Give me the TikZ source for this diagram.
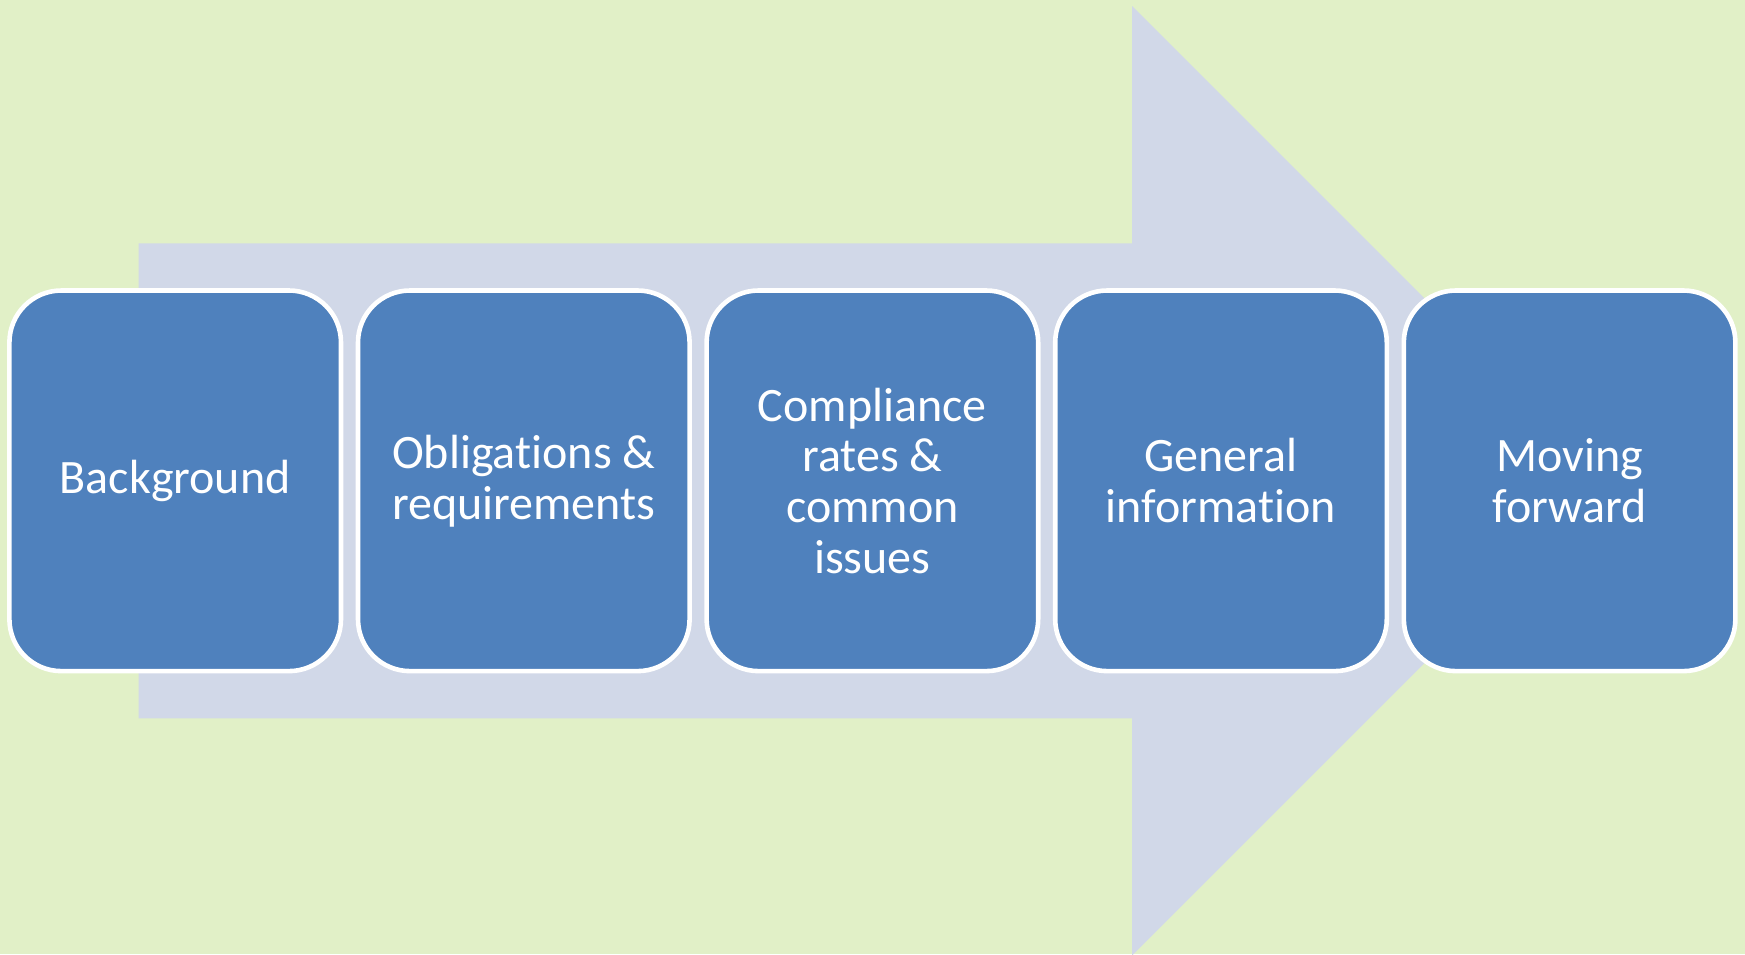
\documentclass[tikz,border=0pt]{standalone}
\usepackage{fontspec}
\setmainfont{Carlito}[Ligatures=NoCommon]
\begin{document}
% one unit = half a point, y grows downward
\begin{tikzpicture}[x=0.5pt,y=-0.5pt,
  bg/.style={fill=bggreen},
  flow/.style={fill=arrowgray},
  stage/.style={draw=white, line width=2.3pt, fill=stageblue,
    rounded corners=26pt, minimum width=165.8pt, minimum height=190.3pt,
    align=center, text=white, inner sep=0pt,
    font=\fontsize{24}{25.4}\selectfont}]
  \definecolor{bggreen}{HTML}{E1F0C7}
  \definecolor{arrowgray}{HTML}{D1D8E8}
  \definecolor{stageblue}{HTML}{4F81BD}

  \useasboundingbox (0,0) rectangle (1745,954);
  \clip (0,0) rectangle (1745,954);
  \fill[bg] (0,0) rectangle (1745,954);

  % broad block arrow behind the stages
  \fill[flow] (138.7,243.3) -- (1132,243.3) -- (1132,6) -- (1606.8,480.8)
    -- (1132,955.6) -- (1132,718.3) -- (138.7,718.3) -- cycle;

  \node[stage] (s1) at (175.2,480.8) {Background};
  \node[stage] (s2) at (523.8,480.8) {Obligations \&\\requirements};
  \node[stage] (s3) at (872.4,480.8) {Compliance\\rates \&\\common\\issues};
  \node[stage] (s4) at (1221.0,480.8) {General\\information};
  \node[stage] (s5) at (1569.6,480.8) {Moving\\forward};
\end{tikzpicture}
\end{document}
